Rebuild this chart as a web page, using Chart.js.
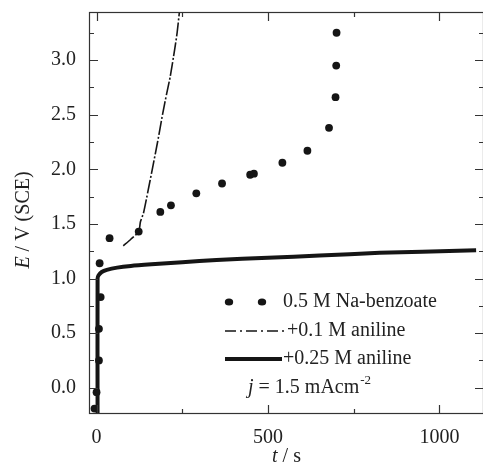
<!DOCTYPE html>
<html>
<head>
<meta charset="utf-8">
<script src="https://cdn.jsdelivr.net/npm/chart.js@4"></script>
<style>
  html, body { margin: 0; background: #fff; overflow: hidden; }
  #wrap { width: 483px; height: 473px; overflow: hidden; }
  #potentialChart { display: block; }
</style>
</head>
<body>
<!-- canvas is a few px wider than the window: chart.js keeps a small margin on the right,
     and the reference box runs to the picture edge -->
<div id="wrap"><canvas id="potentialChart" width="488" height="473"></canvas></div>
<script>
// 0.5 M Na-benzoate (dots)
const benzoateT = [-6, 0, 7, 7, 12, 9, 38, 123, 186, 217, 291, 366, 448, 459, 542, 615, 678, 697, 699, 700];
const benzoateE = [-0.19, -0.04, 0.25, 0.54, 0.83, 1.14, 1.37, 1.43, 1.61, 1.67, 1.78, 1.87, 1.95, 1.96, 2.06, 2.17, 2.38, 2.66, 2.95, 3.25];

// +0.1 M aniline (dash-dot)
const aniline01T = [78, 100, 123, 128, 137, 150, 162, 178, 193, 205, 215, 228, 235, 242];
const aniline01E = [1.30, 1.36, 1.43, 1.52, 1.60, 1.80, 1.99, 2.25, 2.51, 2.70, 2.85, 3.10, 3.25, 3.45];

// +0.25 M aniline (thick solid)
const aniline025T = [3, 3, 6, 15, 30, 60, 100, 160, 250, 350, 500, 650, 826, 950, 1107];
const aniline025E = [-0.3, 1.0, 1.03, 1.06, 1.08, 1.10, 1.115, 1.13, 1.15, 1.17, 1.19, 1.21, 1.235, 1.245, 1.26];

const xMajor = [0, 500, 1000];
const xMinor = [250, 750];
const yMajor = [0.0, 0.5, 1.0, 1.5, 2.0, 2.5, 3.0];
const yMinor = [0.25, 0.75, 1.25, 1.75, 2.25, 2.75, 3.25];

const legendLabels = ['0.5 M Na-benzoate', '+0.1 M aniline', '+0.25 M aniline'];

const ink = '#151515';
const serif = '"Liberation Serif", "Times New Roman", serif';

function toPoints(xs, ys) {
    return xs.map((x, i) => ({ x: x, y: ys[i] }));
}

function noPad(scale) {
    scale.paddingTop = 0;
    scale.paddingBottom = 0;
    scale.paddingLeft = 0;
    scale.paddingRight = 0;
}

const frame = {
    id: 'frame',
    afterDraw(chart) {
        const c = chart.ctx;
        const a = chart.chartArea;
        const xs = chart.scales.x;
        const ys = chart.scales.y;
        c.save();
        c.strokeStyle = '#333';
        c.lineWidth = 1.2;
        c.strokeRect(a.left + 0.5, a.top + 0.5, a.right - a.left - 1, a.bottom - a.top - 1);

        // inward ticks on all four sides
        c.beginPath();
        const tick = (vals, len) => {
            vals.forEach(v => {
                const px = Math.round(xs.getPixelForValue(v)) + 0.5;
                c.moveTo(px, a.bottom); c.lineTo(px, a.bottom - len);
                c.moveTo(px, a.top); c.lineTo(px, a.top + len);
            });
        };
        const tickY = (vals, len) => {
            vals.forEach(v => {
                const py = Math.round(ys.getPixelForValue(v)) + 0.5;
                c.moveTo(a.left, py); c.lineTo(a.left + len, py);
                c.moveTo(a.right, py); c.lineTo(a.right - len, py);
            });
        };
        tick(xMajor, 9);
        tick(xMinor, 5);
        tickY(yMajor, 9);
        tickY(yMinor, 5);
        c.stroke();

        // axis titles
        c.fillStyle = '#222';
        c.textBaseline = 'alphabetic';
        c.font = 'italic 20px ' + serif;
        const tW = c.measureText('t').width;
        c.font = '20px ' + serif;
        const sW = c.measureText(' / s').width;
        let x0 = (a.left + a.right) / 2 - (tW + sW) / 2;
        c.font = 'italic 20px ' + serif;
        c.fillText('t', x0, 462);
        c.font = '20px ' + serif;
        c.fillText(' / s', x0 + tW, 462);

        c.save();
        c.translate(29, 220);
        c.rotate(-Math.PI / 2);
        c.font = 'italic 20px ' + serif;
        const eW = c.measureText('E').width;
        c.font = '20px ' + serif;
        const restW = c.measureText(' / V (SCE)').width;
        let y0 = -(eW + restW) / 2;
        c.font = 'italic 20px ' + serif;
        c.fillText('E', y0, 0);
        c.font = '20px ' + serif;
        c.fillText(' / V (SCE)', y0 + eW, 0);
        c.restore();

        // legend
        c.fillStyle = ink;
        [229, 262].forEach(dx => {
            c.beginPath();
            c.ellipse(dx, 302, 4.2, 3.5, 0, 0, Math.PI * 2);
            c.fill();
        });
        c.strokeStyle = ink;
        c.lineWidth = 1.6;
        c.setLineDash([11, 4, 2, 4]);
        c.beginPath(); c.moveTo(225, 331); c.lineTo(285, 331); c.stroke();
        c.setLineDash([]);
        c.lineWidth = 4;
        c.beginPath(); c.moveTo(225, 359); c.lineTo(282, 359); c.stroke();

        c.fillStyle = '#222';
        c.font = '20px ' + serif;
        c.textBaseline = 'middle';
        c.fillText(legendLabels[0], 283, 302);
        c.fillText(legendLabels[1], 287, 331);
        c.fillText(legendLabels[2], 283, 359);
        c.font = 'italic 20px ' + serif;
        c.fillText('j', 248, 388);
        const jW = c.measureText('j').width;
        c.font = '20px ' + serif;
        c.fillText(' = 1.5 mAcm', 248 + jW, 388);
        const mW = c.measureText(' = 1.5 mAcm').width;
        c.font = '13px ' + serif;
        c.fillText('-2', 248 + jW + mW + 1, 381);
        c.restore();
    }
};

new Chart(document.getElementById('potentialChart').getContext('2d'), {
    type: 'scatter',
    data: {
        datasets: [
            {
                label: legendLabels[2],
                data: toPoints(aniline025T, aniline025E),
                showLine: true,
                borderColor: ink,
                borderWidth: 4,
                pointRadius: 0,
                tension: 0.2
            },
            {
                label: legendLabels[1],
                data: toPoints(aniline01T, aniline01E),
                showLine: true,
                borderColor: ink,
                borderWidth: 1.6,
                borderDash: [14, 2, 2, 2],
                pointRadius: 0,
                tension: 0.2
            },
            {
                label: legendLabels[0],
                data: toPoints(benzoateT, benzoateE),
                showLine: false,
                backgroundColor: ink,
                borderColor: ink,
                pointRadius: 3.9,
                pointBorderWidth: 0
            }
        ]
    },
    options: {
        responsive: false,
        animation: false,
        layout: { padding: { top: 12, right: 0, left: 0, bottom: 0 } },
        plugins: {
            legend: { display: false },
            tooltip: { enabled: false }
        },
        scales: {
            x: {
                type: 'linear',
                min: -22,
                max: 1130,
                grid: { display: false, drawTicks: false },
                border: { display: false },
                afterFit: scale => { scale.height = 59; noPad(scale); },
                afterBuildTicks: scale => { scale.ticks = xMajor.map(v => ({ value: v })); },
                ticks: {
                    color: '#222',
                    padding: 12,
                    maxRotation: 0,
                    font: { family: serif, size: 20 },
                    callback: v => String(v)
                }
            },
            y: {
                type: 'linear',
                min: -0.24,
                max: 3.44,
                grid: { display: false, drawTicks: false },
                border: { display: false },
                afterFit: scale => { scale.width = 89; noPad(scale); },
                afterBuildTicks: scale => { scale.ticks = yMajor.map(v => ({ value: v })); },
                ticks: {
                    color: '#222',
                    padding: 13,
                    font: { family: serif, size: 20 },
                    callback: v => Number(v).toFixed(1)
                }
            }
        }
    },
    plugins: [frame]
});
</script>
</body>
</html>
